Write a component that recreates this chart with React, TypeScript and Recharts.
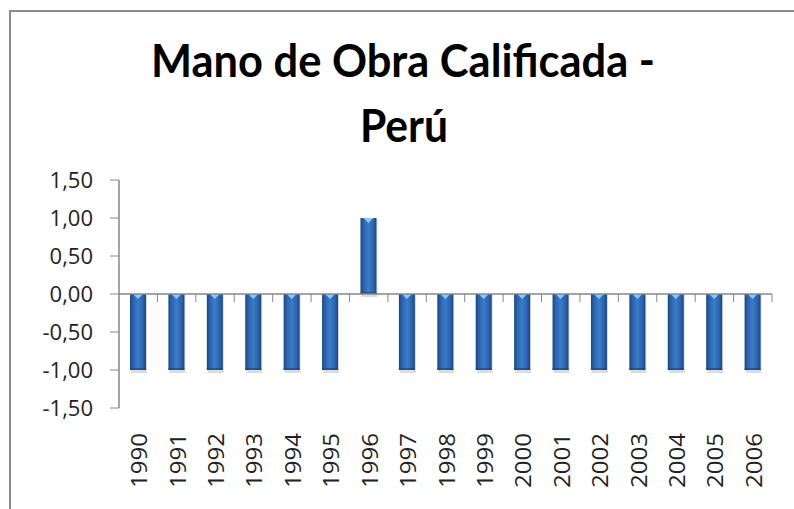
import React from "react";
import { BarChart, Bar, XAxis, YAxis, ReferenceLine } from "recharts";

const years = ["1990","1991","1992","1993","1994","1995","1996","1997","1998","1999","2000","2001","2002","2003","2004","2005","2006"];
const values = [-1,-1,-1,-1,-1,-1,1,-1,-1,-1,-1,-1,-1,-1,-1,-1,-1];
const yTicks = [-1.5,-1,-0.5,0,0.5,1,1.5];
const titleLines = ["Mano de Obra Calificada -", "Perú"];

const data = years.map((y, i) => ({ year: y, value: values[i] }));

const AXIS = "#868686";
const FONT = "'Open Sans', 'Noto Sans', sans-serif";

const fmt = (v: number) => v.toFixed(2).replace(".", ",");

const BarShape = (props: any) => {
  const { x, y, width, height, index } = props;
  const top = Math.min(y, y + height);
  const h = Math.abs(height);
  const id = `g${index}`;
  return (
    <g>
      <defs>
        <linearGradient id={id} x1="0" y1="0" x2="1" y2="0">
          <stop offset="0" stopColor="#1a467f" />
          <stop offset="0.18" stopColor="#2a62ab" />
          <stop offset="0.5" stopColor="#3c7cca" />
          <stop offset="0.82" stopColor="#2a62ab" />
          <stop offset="1" stopColor="#1a467f" />
        </linearGradient>
      </defs>
      <rect x={x + 1} y={top + 1} width={width} height={h + 2} fill="#9a9a9a" opacity={0.35} />
      <rect x={x} y={top} width={width} height={h} fill={`url(#${id})`} />
      <polygon
        points={`${x + 3},${top} ${x + width - 3},${top} ${x + width / 2},${top + 5}`}
        fill="#8cc6f2"
      />
      <rect x={x} y={top + h - 2} width={width} height={2} fill="#1a3f73" opacity={0.6} />
    </g>
  );
};

const ZeroAxis = (props: any) => {
  const { x1, y1, x2 } = props;
  const n = years.length;
  const step = (x2 - x1) / n;
  const ticks = [];
  for (let i = 1; i <= n; i++) {
    const tx = x1 + i * step;
    ticks.push(<line key={i} x1={tx} y1={y1} x2={tx} y2={y1 + 8} stroke={AXIS} strokeWidth={1} />);
  }
  return (
    <g>
      <line x1={x1} y1={y1} x2={x2} y2={y1} stroke={AXIS} strokeWidth={1.5} />
      {ticks}
    </g>
  );
};

const XTick = (props: any) => {
  const { x, y, payload } = props;
  const ay = y + 25;
  return (
    <text
      x={x}
      y={ay}
      transform={`rotate(-90, ${x}, ${ay})`}
      textAnchor="end"
      dominantBaseline="central"
      fontFamily={FONT}
      fontSize={22}
      fill="#222"
      textLength={55}
      lengthAdjust="spacingAndGlyphs"
    >
      {payload.value}
    </text>
  );
};

export default function App() {
  return (
    <div style={{ position: "absolute", left: 0, top: 0, width: 794, height: 509, background: "#fff", overflow: "hidden" }}>
      <div
        style={{
          position: "absolute",
          left: 9,
          top: 10,
          width: 785,
          height: 499,
          boxSizing: "border-box",
          borderLeft: "2px solid #8a8a8a",
          borderTop: "2px solid #8a8a8a",
        }}
      />
      <svg width={794} height={509} style={{ position: "absolute", left: 0, top: 0 }}>
        <text x={403} y={77} textAnchor="middle" fontFamily="Lato, 'Open Sans', sans-serif" fontWeight={700} fontSize={45} fill="#000" textLength={504} lengthAdjust="spacingAndGlyphs">
          {titleLines[0]}
        </text>
        <text x={404} y={142} textAnchor="middle" fontFamily="Lato, 'Open Sans', sans-serif" fontWeight={700} fontSize={45} fill="#000" textLength={88} lengthAdjust="spacingAndGlyphs">
          {titleLines[1]}
        </text>
      </svg>
      <div style={{ position: "absolute", left: 0, top: 0 }}>
        <BarChart width={794} height={509} data={data} margin={{ top: 180, right: 22, bottom: 0, left: 0 }}>
          <YAxis
            width={119}
            domain={[-1.5, 1.5]}
            ticks={yTicks}
            tickFormatter={fmt}
            stroke={AXIS}
            axisLine={{ stroke: AXIS, strokeWidth: 1.5 }}
            tickLine={{ stroke: AXIS }}
            tickSize={9}
            tickMargin={17}
            tick={{ fill: "#222", fontSize: 22, fontFamily: FONT }}
            interval={0}
          />
          <XAxis
            dataKey="year"
            height={101}
            axisLine={false}
            tickLine={false}
            tickSize={0}
            tickMargin={0}
            interval={0}
            tick={<XTick />}
          />
          <Bar dataKey="value" barSize={16} shape={<BarShape />} isAnimationActive={false} />
          <ReferenceLine y={0} shape={<ZeroAxis />} ifOverflow="visible" />
        </BarChart>
      </div>
    </div>
  );
}
